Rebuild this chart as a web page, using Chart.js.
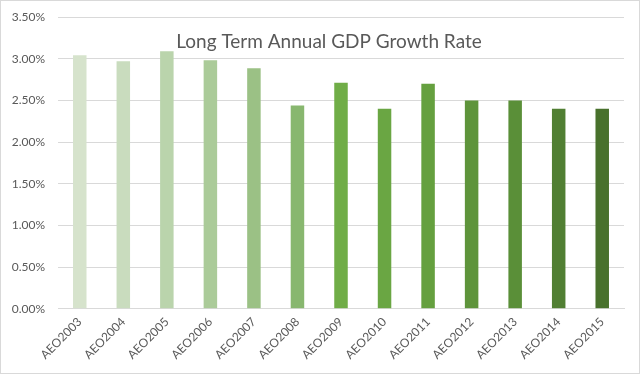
<!DOCTYPE html>
<html>
<head>
<meta charset="utf-8">
<script src="https://cdn.jsdelivr.net/npm/chart.js@4"></script>
<style>
  html, body { margin: 0; padding: 0; background: #fff; }
  #wrap { position: relative; width: 638px; height: 372px; border: 1px solid #d9d9d9; }
</style>
</head>
<body>
<div id="wrap"><canvas id="myChart"></canvas></div>
<script>
const labels = ['AEO2003', 'AEO2004', 'AEO2005', 'AEO2006', 'AEO2007', 'AEO2008', 'AEO2009',
  'AEO2010', 'AEO2011', 'AEO2012', 'AEO2013', 'AEO2014', 'AEO2015'];
const growthRate = [3.04, 2.97, 3.09, 2.98, 2.885, 2.44, 2.71, 2.40, 2.70, 2.50, 2.50, 2.40, 2.40];
const barColors = ['#d6e3cc', '#c9dcbe', '#bad4ac', '#abcb99', '#9bc185', '#88b76f', '#70ad47',
  '#6aa643', '#65a03f', '#5e943b', '#5a8f38', '#517f33', '#48712c'];
const titleText = 'Long Term Annual GDP Growth Rate';

const ctx = document.getElementById('myChart');

// title sits over the plot area like the Excel overlay title
const overlayTitle = {
  id: 'overlayTitle',
  afterDatasetsDraw(chart) {
    const c = chart.ctx;
    c.save();
    c.font = '19px Lato';
    c.fillStyle = '#595959';
    c.textAlign = 'center';
    c.textBaseline = 'middle';
    c.fillText(titleText, 328, 41);
    c.restore();
  }
};

new Chart(ctx, {
  type: 'bar',
  data: {
    labels: labels,
    datasets: [{
      data: growthRate,
      backgroundColor: barColors,
      barPercentage: 0.31,
      categoryPercentage: 1
    }]
  },
  options: {
    responsive: true,
    maintainAspectRatio: false,
    animation: false,
    layout: { padding: { top: 16, right: 15, left: 11, bottom: 5 } },
    plugins: {
      legend: { display: false },
      tooltip: { enabled: false }
    },
    scales: {
      x: {
        grid: { display: false, drawTicks: false },
        border: { color: '#d9d9d9' },
        afterFit: s => { s.paddingLeft = 0; s.paddingRight = 0; },
        ticks: {
          color: '#595959',
          font: { family: 'Lato', size: 12 },
          maxRotation: 45,
          minRotation: 45,
          padding: 6
        }
      },
      y: {
        min: 0,
        max: 3.5,
        grid: { color: '#d9d9d9', drawTicks: false },
        border: { display: false },
        afterFit: s => { s.width = 46; s.paddingTop = 0; s.paddingBottom = 0; },
        ticks: {
          stepSize: 0.5,
          color: '#595959',
          font: { family: 'Lato', size: 12 },
          padding: 13,
          callback: v => v.toFixed(2) + '%'
        }
      }
    }
  },
  plugins: [overlayTitle]
});
</script>
</body>
</html>
